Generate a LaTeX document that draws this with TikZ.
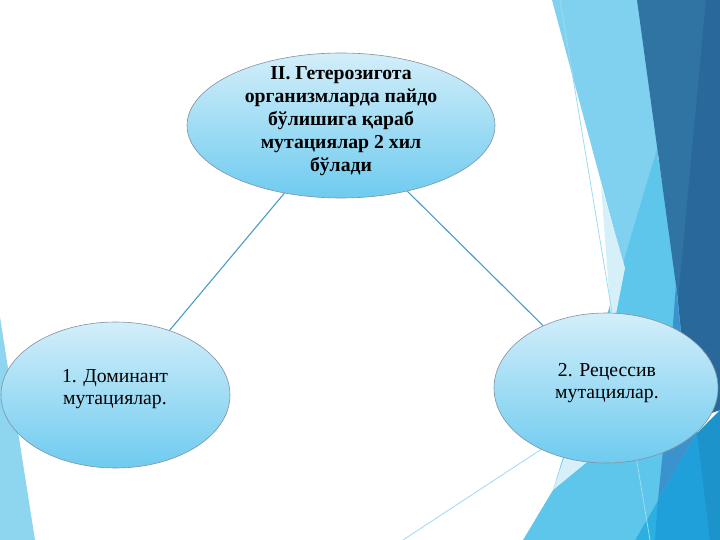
\documentclass[tikz,border=0pt]{standalone}
\usepackage{fontspec}
\setmainfont{Liberation Serif}
\usetikzlibrary{shapes.geometric}
\definecolor{facetleft}{HTML}{8ED5F0}
\definecolor{facetsky}{HTML}{80D1EF}
\definecolor{facetcyan}{HTML}{5EC6EA}
\definecolor{facetpale}{HTML}{D6F0FA}
\definecolor{facetnavy}{HTML}{3074A3}
\definecolor{facetdeep}{HTML}{29689A}
\definecolor{facetmid}{HTML}{3B93CE}
\definecolor{facetbright}{HTML}{2BB0E1}
\definecolor{facetblue}{HTML}{1FA0DA}
\definecolor{facetsea}{HTML}{1C93CA}
\definecolor{facetline}{HTML}{9ADCF3}
\definecolor{bubbletop}{HTML}{D3EEFA}
\definecolor{bubblebot}{HTML}{6ECBEF}
\definecolor{bubbleedge}{HTML}{8391A0}
\definecolor{linkblue}{HTML}{4A9CC6}
\tikzset{
   centered/.style = { align=center, anchor=center },
     bubble/.style = { ellipse, draw=bubbleedge, line width=0.6bp, inner sep=0pt,
                       top color=bubbletop, bottom color=bubblebot },
   headtext/.style = { font=\fontsize{19.8}{23}\selectfont\bfseries, centered },
   bodytext/.style = { font=\fontsize{19.8}{22}\selectfont, centered },
      facet/.style = { line width=0.8bp, color=facetline },
       link/.style = { line width=1.1bp, color=linkblue },
}

\begin{document}
\begin{tikzpicture}[x=1bp,y=-1bp]
  \useasboundingbox (0,0) rectangle (720,540);
  \fill[white] (0,0) rectangle (720,540);
  \fill[facetleft]   (0,317) -- (35,540) -- (0,540) -- cycle;
  \fill[facetsky]    (552,0) -- (640,0) -- (660,149) -- (623,263) -- cycle;
  \fill[facetcyan]   (657,149) -- (680,300) -- (692,420) -- (697,433) -- (635,540)
                     -- (523,540) -- (553,490) -- (623,263) -- cycle;
  \fill[facetpale]   (601,185) -- (625,268) -- (587,462) -- (553,490) -- (611,320) -- cycle;
  \fill[facetnavy]   (637,0) -- (720,0) -- (720,410) -- (690,420) -- (678,300) -- cycle;
  \fill[facetdeep]   (706,0) -- (720,0) -- (720,410) -- (690,420) -- (678,300) -- cycle;
  \fill[facetmid]    (676,285) -- (690,420) -- (697,433) -- (658,500) -- (664,440) -- cycle;
  \fill[facetbright] (635,540) -- (697,433) -- (720,420) -- (720,540) -- cycle;
  \fill[facetblue]   (655,540) -- (658,500) -- (697,433) -- (720,420) -- (720,540) -- cycle;
  \fill[facetsea]    (697,433) -- (720,410) -- (720,540) -- (710,540) -- cycle;
  \draw[facet] (560,0) -- (650,540);
  \draw[facet] (403,540) -- (560,437);

  \node[bubble, minimum width=308bp, minimum height=145bp] (hetero) at (341,125.5) {};
  \node[bubble, minimum width=229bp, minimum height=146bp] (dom)    at (115.5,395) {};
  \node[bubble, minimum width=224bp, minimum height=150bp] (rec)    at (606,388) {};
  \foreach \j in {dom,rec}
    \draw[link] (hetero) -- (\j);

  \node[headtext] (hetero-t) at (341,121)
    {II. Гетерозигота\\организмларда пайдо\\бўлишига қараб\\мутациялар 2 хил\\бўлади};
  \node[bodytext] (dom-t) at (115,389) {1. Доминант\\мутациялар.};
  \node[bodytext] (rec-t) at (607,383) {2. Рецессив\\мутациялар.};
\end{tikzpicture}
\end{document}
